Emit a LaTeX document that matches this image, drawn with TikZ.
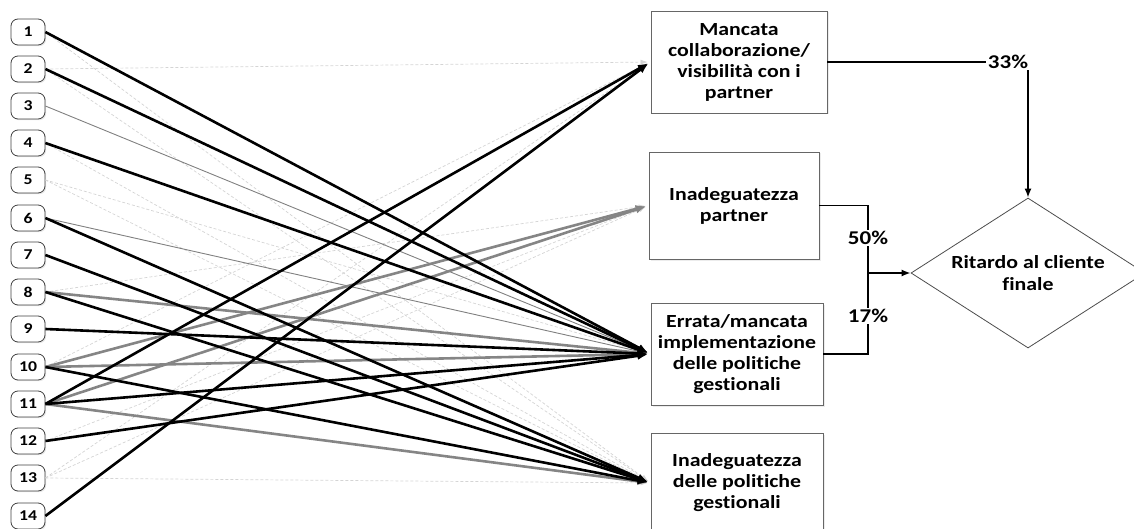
\documentclass[tikz,border=0pt]{standalone}
\usepackage{fontspec}
\setmainfont{Carlito}[FakeStretch=1.18, Ligatures=NoCommon]
\usetikzlibrary{arrows.meta,shapes.geometric,shadows}

\begin{document}
\begin{tikzpicture}[x=1pt,y=-1pt,
  src/.style={draw=black!75, line width=0.8pt, rounded corners=7pt, fill=white,
    minimum width=34pt, minimum height=26pt, inner sep=0pt,
    font=\bfseries\fontsize{15}{17}\selectfont,
    drop shadow={opacity=0.2, shadow xshift=1.2pt, shadow yshift=-1.2pt}},
  tgt/.style={draw=black!60, line width=0.8pt, fill=white, align=center, inner sep=2pt,
    font=\bfseries\fontsize{18.5}{21}\selectfont,
    drop shadow={opacity=0.15, shadow xshift=1.5pt, shadow yshift=-1.5pt}},
  result/.style={draw=black!70, line width=0.8pt, diamond, shape aspect=1.56,
    minimum width=234pt, minimum height=150pt, inner sep=0pt, align=center,
    font=\bfseries\fontsize{18.5}{22}\selectfont},
  pct/.style={fill=white, inner sep=1.5pt, font=\bfseries\fontsize{19.5}{22}\selectfont},
  faint/.style={draw=black!17, line width=0.7pt, dash pattern=on 3pt off 2pt,
    -{Latex[length=7pt,width=5pt]}, shorten >=3pt},
  thin/.style={draw=black!50, line width=0.9pt, -{Latex[length=8pt,width=6pt]}, shorten >=3pt},
  heavygray/.style={draw=black!48, line width=2.6pt, -{Latex[length=10pt,width=8pt]}, shorten >=3pt},
  heavy/.style={draw=black, line width=2.6pt, -{Latex[length=10pt,width=8pt]}, shorten >=3pt},
  link/.style={draw=black, line width=1.6pt}
]
\useasboundingbox (0,0) rectangle (1134,529);

% causes 1..14
\foreach \i/\y in {1/32,2/69,3/106,4/143,5/180,6/218,7/255,8/292,9/329,10/367,11/404,12/441,13/478,14/516}
  \node[src] (s\i) at (28,\y) {\i};

% intermediate effects
\node[tgt, minimum width=176pt, minimum height=102pt] (A) at (739,62)
  {Mancata\\collaborazione/\\visibilità con i\\partner};
\node[tgt, minimum width=170pt, minimum height=107pt] (B) at (734,205.5)
  {Inadeguatezza\\partner};
\node[tgt, minimum width=172pt, minimum height=102pt] (C) at (737,354)
  {Errata/mancata\\implementazione\\delle politiche\\gestionali};
\node[tgt, minimum width=172pt, minimum height=100pt] (D) at (737,483)
  {Inadeguatezza\\delle politiche\\gestionali};

% final effect
\node[result] (R) at (1028,273) {Ritardo al cliente\\finale};

% weak links
\foreach \s/\t in {1/D,2/A,2/D,4/D,5/C,5/D,8/B,10/A,12/B,13/A,13/B,13/D}
  \draw[faint] (s\s.east) -- (\t.west);
% light links
\foreach \s/\t in {3/C,6/C}
  \draw[thin] (s\s.east) -- (\t.west);
% medium links
\foreach \s/\t in {8/C,10/B,10/C,11/B,11/D}
  \draw[heavygray] (s\s.east) -- (\t.west);
% strong links
\foreach \s/\t in {1/C,2/C,4/C,6/D,7/D,8/D,9/C,10/D,11/A,11/C,12/C,14/A}
  \draw[heavy] (s\s.east) -- (\t.west);

% aggregation towards the final effect
\coordinate (bus) at (868,273);
\draw[link, -{Latex[length=9pt,width=7pt]}] (A.east) -- (A.east -| R.north) -- (R.north);
\draw[link] (B.east) -| (bus) |- (C.east);
\draw[link, -{Latex[length=9pt,width=7pt]}] (bus) -- (R.west);

\node[pct] (p33) at (1008,62) {33\%};
\node[pct] (p50) at (868,238) {50\%};
\node[pct] (p17) at (868,316) {17\%};
\end{tikzpicture}
\end{document}
